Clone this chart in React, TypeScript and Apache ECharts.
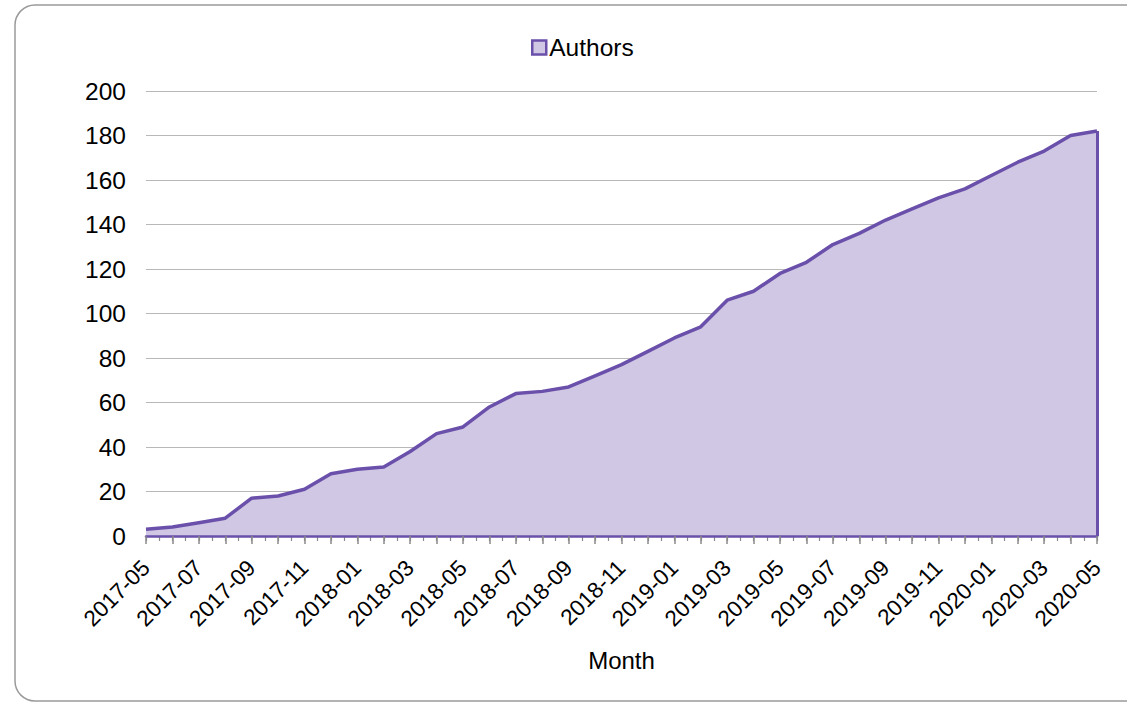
import React, { useEffect, useRef } from "react";
import * as echarts from "echarts";

const months: string[] = [
  "2017-05", "2017-06", "2017-07", "2017-08", "2017-09", "2017-10", "2017-11", "2017-12",
  "2018-01", "2018-02", "2018-03", "2018-04", "2018-05", "2018-06", "2018-07", "2018-08",
  "2018-09", "2018-10", "2018-11", "2018-12", "2019-01", "2019-02", "2019-03", "2019-04",
  "2019-05", "2019-06", "2019-07", "2019-08", "2019-09", "2019-10", "2019-11", "2019-12",
  "2020-01", "2020-02", "2020-03", "2020-04", "2020-05",
];

const authors: number[] = [
  3, 4, 6, 8, 17, 18, 21, 28,
  30, 31, 38, 46, 49, 58, 64, 65,
  67, 72, 77, 83, 89, 94, 106, 110,
  118, 123, 131, 136, 142, 147, 152, 156,
  162, 168, 173, 180, 182,
];

const seriesName = "Authors";
const xAxisName = "Month";
const yTicks = { min: 0, max: 200, interval: 20 };

const LINE = "#6a50aa";
const FILL = "#cfc7e3";
const FONT = "'Liberation Sans', Arial, sans-serif";

export default function App() {
  const ref = useRef<HTMLDivElement>(null);
  useEffect(() => {
    if (!ref.current) return;
    const chart = echarts.init(ref.current, null, { renderer: "svg" });
    const last = months[months.length - 1];
    chart.setOption({
      animation: false,
      backgroundColor: "#ffffff",
      textStyle: { fontFamily: FONT },
      graphic: [
        {
          type: "rect",
          shape: { x: 15, y: 5, width: 1130, height: 696, r: 20 },
          style: { fill: "none", stroke: "#9a9a9a", lineWidth: 1.5 },
          silent: true,
          z: -1,
        },
      ],
      legend: {
        top: 30,
        left: 526,
        icon: "rect",
        itemWidth: 14,
        itemHeight: 14,
        itemGap: 4,
        textStyle: { fontSize: 24.5, color: "#000", fontFamily: FONT, padding: [0, 0, 0, -2] },
        data: [
          {
            name: seriesName,
            itemStyle: { color: FILL, borderColor: LINE, borderWidth: 2.5 },
          },
        ],
      },
      grid: { left: 146, right: 30, top: 91, bottom: 167, containLabel: false },
      xAxis: [
        {
          type: "category",
          data: months,
          boundaryGap: false,
          name: xAxisName,
          nameLocation: "middle",
          nameGap: 112,
          nameTextStyle: { fontSize: 24, color: "#000", fontFamily: FONT },
          axisLine: { show: true, lineStyle: { color: LINE, width: 2.5 } },
          axisTick: {
            show: true,
            interval: 0,
            length: 8,
            lineStyle: { color: "#8a8a8a", width: 1.5 },
          },
          axisLabel: {
            interval: 1,
            rotate: 45,
            fontSize: 22.5,
            color: "#000",
            margin: 28,
            fontFamily: FONT,
          },
          splitLine: { show: false },
          z: 3,
        },
        {
          type: "value",
          position: "bottom",
          min: 0,
          max: (months.length - 1) * 2,
          interval: 1,
          axisLine: { show: false },
          axisLabel: { show: false },
          splitLine: { show: false },
          axisTick: { show: true, length: 5, lineStyle: { color: "#8a8a8a", width: 1.2 } },
          z: 2,
        },
      ],
      yAxis: {
        type: "value",
        min: yTicks.min,
        max: yTicks.max,
        interval: yTicks.interval,
        axisLine: { show: false },
        axisTick: { show: false },
        axisLabel: { fontSize: 24.5, color: "#000", margin: 20, fontFamily: FONT },
        splitLine: { lineStyle: { color: "#b8b8b8", width: 1.2 } },
      },
      series: [
        {
          name: seriesName,
          type: "line",
          xAxisIndex: 0,
          data: authors,
          symbol: "none",
          lineStyle: { color: LINE, width: 3.5 },
          itemStyle: { color: LINE },
          areaStyle: { color: FILL, opacity: 1 },
          markLine: {
            silent: true,
            symbol: "none",
            label: { show: false },
            lineStyle: { color: LINE, width: 3, type: "solid" },
            data: [
              [
                { coord: [last, 0] },
                { coord: [last, authors[authors.length - 1]] },
              ],
            ],
          },
        },
      ],
    });
    return () => chart.dispose();
  }, []);
  return (
    <div
      ref={ref}
      style={{ position: "fixed", left: 0, top: 0, width: 1127, height: 703 }}
    />
  );
}
